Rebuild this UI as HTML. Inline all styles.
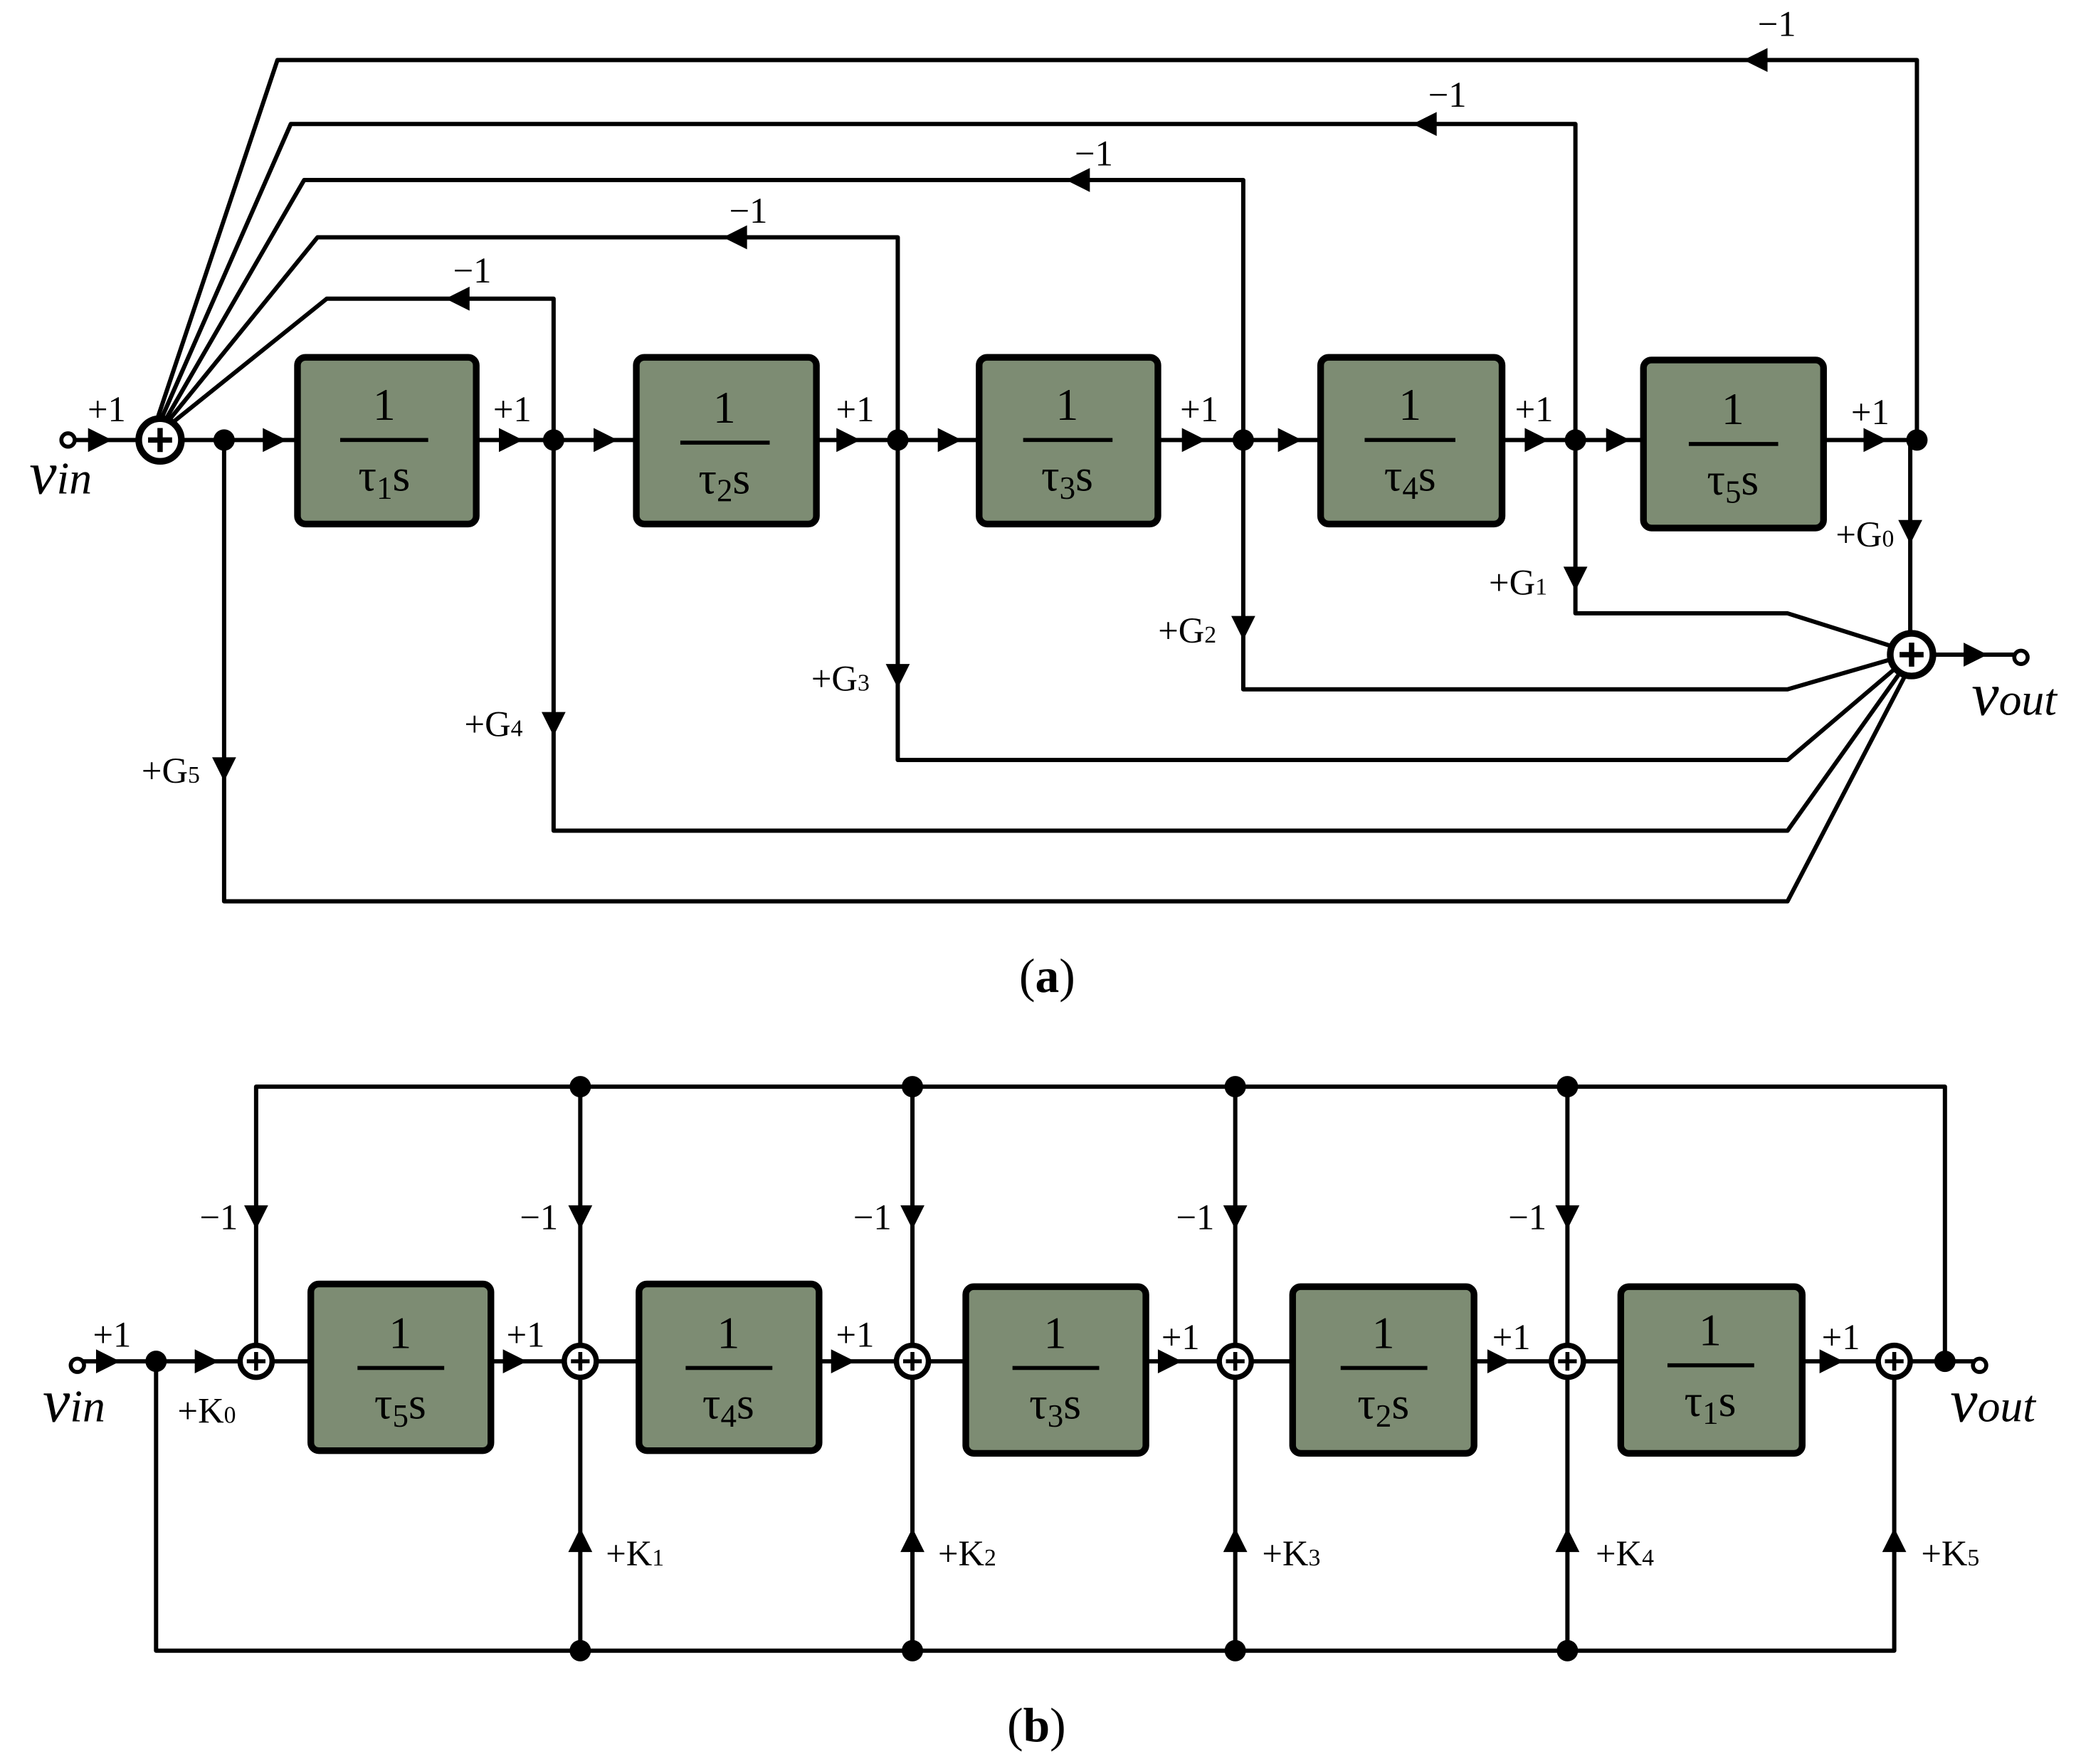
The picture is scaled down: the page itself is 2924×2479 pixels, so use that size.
<!DOCTYPE html>
<html><head><meta charset="utf-8"><style>
html,body{margin:0;padding:0;background:#fff;}
svg{display:block;}
text{font-family:"Liberation Serif",serif;fill:#000;}
.lb{font-size:27px;}
.bt{font-size:34px;}
.v{font-size:46px;font-style:italic;}
</style></head><body>
<svg width="2924" height="2479" viewBox="0 0 1560 1323" preserveAspectRatio="none" xmlns="http://www.w3.org/2000/svg">
<g stroke="#000" stroke-width="3.2" fill="none" stroke-linejoin="round">
<line x1="55" y1="330" x2="1437" y2="330"/>
<polyline points="415,330 415,224 245,224 128,318"/>
<polyline points="673,330 673,178 238,178 126,316"/>
<polyline points="932,330 932,135 228,135 124,315"/>
<polyline points="1181,330 1181,93 218,93 121,314"/>
<polyline points="1437,330 1437,45 208,45 118,314"/>
<line x1="1432" y1="330" x2="1432" y2="474"/>
<polyline points="1181,330 1181,460 1340,460 1416,484"/>
<polyline points="932,330 932,517 1340,517 1416,495"/>
<polyline points="673,330 673,570 1340,570 1420,502"/>
<polyline points="415,330 415,623 1340,623 1424,505"/>
<polyline points="168,330 168,676 1340,676 1428,507"/>
<line x1="1450" y1="491" x2="1510" y2="491"/>
<line x1="60" y1="1021" x2="1480" y2="1021"/>
<polyline points="192,1009 192,815 1458,815 1458,1021"/>
<line x1="435" y1="815" x2="435" y2="1009"/>
<line x1="684" y1="815" x2="684" y2="1009"/>
<line x1="926" y1="815" x2="926" y2="1009"/>
<line x1="1175" y1="815" x2="1175" y2="1009"/>
<polyline points="117,1021 117,1238 1420,1238 1420,1033"/>
<line x1="435" y1="1238" x2="435" y2="1033"/>
<line x1="684" y1="1238" x2="684" y2="1033"/>
<line x1="926" y1="1238" x2="926" y2="1033"/>
<line x1="1175" y1="1238" x2="1175" y2="1033"/>
</g>
<g fill="#000">
<path d="M66,321L84,330L66,339z"/>
<path d="M197,321L215,330L197,339z"/>
<path d="M374,321L392,330L374,339z"/>
<path d="M445,321L463,330L445,339z"/>
<path d="M627,321L645,330L627,339z"/>
<path d="M703,321L721,330L703,339z"/>
<path d="M886,321L904,330L886,339z"/>
<path d="M958,321L976,330L958,339z"/>
<path d="M1143,321L1161,330L1143,339z"/>
<path d="M1204,321L1222,330L1204,339z"/>
<path d="M1397,321L1415,330L1397,339z"/>
<path d="M1472,482L1490,491L1472,500z"/>
<path d="M352,215L334,224L352,233z"/>
<path d="M560,169L542,178L560,187z"/>
<path d="M817,126L799,135L817,144z"/>
<path d="M1077,84L1059,93L1077,102z"/>
<path d="M1325,36L1307,45L1325,54z"/>
<path d="M1423,390L1432,408L1441,390z"/>
<path d="M1172,425L1181,443L1190,425z"/>
<path d="M923,462L932,480L941,462z"/>
<path d="M664,498L673,516L682,498z"/>
<path d="M406,534L415,552L424,534z"/>
<path d="M159,568L168,586L177,568z"/>
<path d="M72,1012L90,1021L72,1030z"/>
<path d="M146,1012L164,1021L146,1030z"/>
<path d="M377,1012L395,1021L377,1030z"/>
<path d="M623,1012L641,1021L623,1030z"/>
<path d="M868,1012L886,1021L868,1030z"/>
<path d="M1115,1012L1133,1021L1115,1030z"/>
<path d="M1364,1012L1382,1021L1364,1030z"/>
<path d="M183,904L192,922L201,904z"/>
<path d="M426,904L435,922L444,904z"/>
<path d="M675,904L684,922L693,904z"/>
<path d="M917,904L926,922L935,904z"/>
<path d="M1166,904L1175,922L1184,904z"/>
<path d="M426,1164L435,1146L444,1164z"/>
<path d="M675,1164L684,1146L693,1164z"/>
<path d="M917,1164L926,1146L935,1164z"/>
<path d="M1166,1164L1175,1146L1184,1164z"/>
<path d="M1411,1164L1420,1146L1429,1164z"/>
<circle cx="168" cy="330" r="8"/><circle cx="415" cy="330" r="8"/><circle cx="673" cy="330" r="8"/>
<circle cx="932" cy="330" r="8"/><circle cx="1181" cy="330" r="8"/><circle cx="1437" cy="330" r="8"/>
<circle cx="117" cy="1021" r="8"/><circle cx="1458" cy="1021" r="8"/>
<circle cx="435" cy="815" r="8"/><circle cx="684" cy="815" r="8"/><circle cx="926" cy="815" r="8"/><circle cx="1175" cy="815" r="8"/>
<circle cx="435" cy="1238" r="8"/><circle cx="684" cy="1238" r="8"/><circle cx="926" cy="1238" r="8"/><circle cx="1175" cy="1238" r="8"/>
</g>
<g fill="#fff" stroke="#000" stroke-width="3">
<circle cx="51" cy="330" r="5"/>
<circle cx="1515" cy="493" r="5"/>
<circle cx="58" cy="1024" r="5"/>
<circle cx="1484" cy="1024" r="5"/>
</g>
<g fill="#fff" stroke="#000">
<circle cx="120" cy="330" r="16" stroke-width="5"/>
<circle cx="1433" cy="491" r="16" stroke-width="5"/>
<circle cx="192" cy="1021" r="12" stroke-width="4"/><circle cx="435" cy="1021" r="12" stroke-width="4"/>
<circle cx="684" cy="1021" r="12" stroke-width="4"/><circle cx="926" cy="1021" r="12" stroke-width="4"/>
<circle cx="1175" cy="1021" r="12" stroke-width="4"/><circle cx="1420" cy="1021" r="12" stroke-width="4"/>
</g>
<g stroke="#000" stroke-width="4">
<path d="M111,330h18M120,321v18"/><path d="M1424,491h18M1433,482v18"/>
<g stroke-width="3">
<path d="M185,1021h14M192,1014v14"/><path d="M428,1021h14M435,1014v14"/><path d="M677,1021h14M684,1014v14"/>
<path d="M919,1021h14M926,1014v14"/><path d="M1168,1021h14M1175,1014v14"/><path d="M1413,1021h14M1420,1014v14"/>
</g>
</g>
<g fill="#7d8c73" stroke="#000" stroke-width="5">
<rect x="223" y="268" width="134" height="125" rx="6"/>
<rect x="477" y="268" width="135" height="125" rx="6"/>
<rect x="734" y="268" width="134" height="125" rx="6"/>
<rect x="990" y="268" width="136" height="125" rx="6"/>
<rect x="1232" y="270" width="135" height="126" rx="6"/>
<rect x="233" y="963" width="135" height="125" rx="6"/>
<rect x="479" y="963" width="135" height="125" rx="6"/>
<rect x="724" y="965" width="135" height="125" rx="6"/>
<rect x="969" y="965" width="136" height="125" rx="6"/>
<rect x="1215" y="965" width="136" height="125" rx="6"/>
</g>
<g stroke="#000" stroke-width="3">
<line x1="255" y1="330" x2="321" y2="330"/><line x1="510" y1="332" x2="577" y2="332"/>
<line x1="767" y1="330" x2="834" y2="330"/><line x1="1023" y1="330" x2="1091" y2="330"/>
<line x1="1266" y1="333" x2="1333" y2="333"/>
<line x1="268" y1="1026" x2="333" y2="1026"/><line x1="514" y1="1026" x2="579" y2="1026"/>
<line x1="759" y1="1026" x2="824" y2="1026"/><line x1="1005" y1="1026" x2="1070" y2="1026"/>
<line x1="1250" y1="1024" x2="1315" y2="1024"/>
</g>
<g class="bt" text-anchor="middle">
<text x="288" y="315">1</text><text x="288" y="368">τ<tspan font-size="24" dy="6">1</tspan><tspan dy="-6">s</tspan></text>
<text x="543" y="317">1</text><text x="543" y="370">τ<tspan font-size="24" dy="6">2</tspan><tspan dy="-6">s</tspan></text>
<text x="800" y="315">1</text><text x="800" y="368">τ<tspan font-size="24" dy="6">3</tspan><tspan dy="-6">s</tspan></text>
<text x="1057" y="315">1</text><text x="1057" y="368">τ<tspan font-size="24" dy="6">4</tspan><tspan dy="-6">s</tspan></text>
<text x="1299" y="318">1</text><text x="1299" y="371">τ<tspan font-size="24" dy="6">5</tspan><tspan dy="-6">s</tspan></text>
<text x="300" y="1011">1</text><text x="300" y="1064">τ<tspan font-size="24" dy="6">5</tspan><tspan dy="-6">s</tspan></text>
<text x="546" y="1011">1</text><text x="546" y="1064">τ<tspan font-size="24" dy="6">4</tspan><tspan dy="-6">s</tspan></text>
<text x="791" y="1011">1</text><text x="791" y="1064">τ<tspan font-size="24" dy="6">3</tspan><tspan dy="-6">s</tspan></text>
<text x="1037" y="1011">1</text><text x="1037" y="1064">τ<tspan font-size="24" dy="6">2</tspan><tspan dy="-6">s</tspan></text>
<text x="1282" y="1009">1</text><text x="1282" y="1062">τ<tspan font-size="24" dy="6">1</tspan><tspan dy="-6">s</tspan></text>
</g>
<g class="lb" text-anchor="middle">
<text x="80" y="316">+1</text><text x="384" y="316">+1</text><text x="641" y="316">+1</text>
<text x="899" y="316">+1</text><text x="1150" y="316">+1</text><text x="1402" y="318">+1</text>
<text x="354" y="212">−1</text><text x="561" y="167">−1</text><text x="820" y="124">−1</text>
<text x="1085" y="80">−1</text><text x="1332" y="27">−1</text>
<text x="1398" y="410">+G<tspan font-size="18">0</tspan></text>
<text x="1138" y="446">+G<tspan font-size="18">1</tspan></text>
<text x="890" y="482">+G<tspan font-size="18">2</tspan></text>
<text x="630" y="518">+G<tspan font-size="18">3</tspan></text>
<text x="370" y="552">+G<tspan font-size="18">4</tspan></text>
<text x="128" y="587">+G<tspan font-size="18">5</tspan></text>
<text x="84" y="1010">+1</text><text x="394" y="1010">+1</text><text x="641" y="1010">+1</text>
<text x="885" y="1012">+1</text><text x="1133" y="1012">+1</text><text x="1380" y="1012">+1</text>
<text x="164" y="922">−1</text><text x="404" y="922">−1</text><text x="654" y="922">−1</text>
<text x="896" y="922">−1</text><text x="1145" y="922">−1</text>
<text x="155" y="1067">+K<tspan font-size="18">0</tspan></text>
<text x="476" y="1174">+K<tspan font-size="18">1</tspan></text>
<text x="725" y="1174">+K<tspan font-size="18">2</tspan></text>
<text x="968" y="1174">+K<tspan font-size="18">3</tspan></text>
<text x="1218" y="1174">+K<tspan font-size="18">4</tspan></text>
<text x="1462" y="1174">+K<tspan font-size="18">5</tspan></text>
</g>
<text class="v" x="22" y="370">v<tspan font-size="34">in</tspan></text>
<text class="v" x="1478" y="536">v<tspan font-size="34">out</tspan></text>
<text class="v" x="32" y="1066">v<tspan font-size="34">in</tspan></text>
<text class="v" x="1462" y="1066">v<tspan font-size="34">out</tspan></text>
<text x="785" y="744" font-size="36" text-anchor="middle">(<tspan font-weight="bold">a</tspan>)</text>
<text x="777" y="1306" font-size="36" text-anchor="middle">(<tspan font-weight="bold">b</tspan>)</text>
</svg>
</body></html>
